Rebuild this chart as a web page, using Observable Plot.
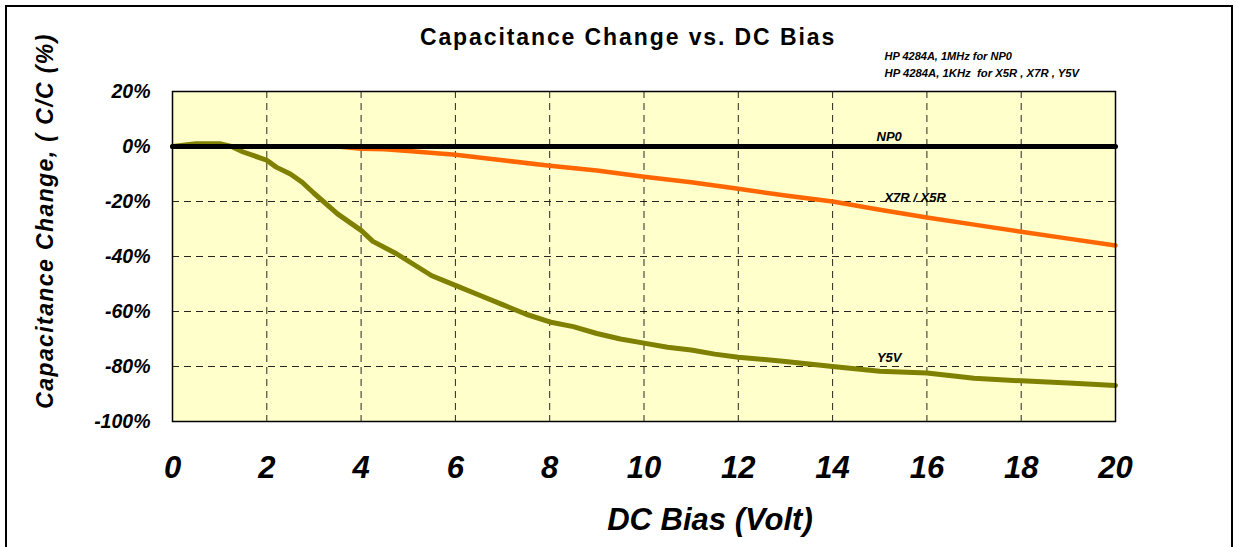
<!DOCTYPE html>
<html>
<head>
<meta charset="utf-8">
<script src="https://cdn.jsdelivr.net/npm/d3@7"></script>
<script src="https://cdn.jsdelivr.net/npm/@observablehq/plot@0.6"></script>
<style>
  html, body { margin: 0; padding: 0; background: #fff; }
  #wrap { position: relative; width: 1239px; height: 547px; overflow: hidden; font-family: 'Liberation Sans', Arial, sans-serif; }
  #border { position: absolute; left: 5px; top: 5px; width: 1224px; height: 600px; border: 2px solid #000; pointer-events: none; z-index: 2; }
  #ylabel { position: absolute; left: 45px; top: 221px; transform: translate(-50%, -50%) rotate(-90deg); white-space: nowrap;
            font-size: 23px; font-weight: bold; font-style: italic; letter-spacing: 1.4px; color: #000; z-index: 3; }
  #title { position: absolute; left: 628px; top: 37px; transform: translate(-50%, -50%); white-space: nowrap;
           font-size: 23px; font-weight: bold; letter-spacing: 1.9px; color: #000; z-index: 3; }
</style>
</head>
<body>
<div id="wrap"><div id="border"></div><div id="title"></div><div id="ylabel"></div></div>
<script>
// ---- data ----
const np0Bias = [0, 20];
const np0Change = [0, 0];

const x7rBias = [0, 1, 2, 3, 3.5, 4, 4.5, 5, 6, 7, 8, 9, 10, 11, 12, 13, 14, 15, 16, 17, 18, 19, 20];
const x7rChange = [0, 0, 0, 0, 0, -0.8, -1, -1.6, -3, -5, -7, -8.7, -11, -13, -15.4, -17.8, -20, -23, -25.8, -28.4, -31, -33.5, -36];

const y5vBias = [0, 0.5, 1, 1.25, 1.5, 2, 2.2, 2.5, 2.75, 3, 3.5, 4, 4.25, 4.75, 5.5, 6, 6.5, 7, 7.5, 8, 8.5, 9, 9.5, 10, 10.5, 11, 11.5, 12, 13, 14, 15, 16, 17, 18, 19, 20];
const y5vChange = [0, 1, 1, 0, -2, -5, -7.5, -10, -13, -17, -24.5, -30.5, -34.5, -39, -47, -50.5, -54, -57.5, -61, -63.8, -65.5, -68, -70, -71.5, -73, -74, -75.5, -76.6, -78.2, -80, -81.7, -82.4, -84.3, -85.2, -86, -86.9];

const seriesNames = ["NP0", "X7R / X5R", "Y5V"];
const seriesColors = ["#000000", "#FF6600", "#808000"];
const labelBias = [15.2, 15.75, 15.2];
const labelChange = [3.6, -18.5, -76.7];

const xTicks = [0, 2, 4, 6, 8, 10, 12, 14, 16, 18, 20];
const yTicks = [20, 0, -20, -40, -60, -80, -100];
const xGrid = [2, 4, 6, 8, 10, 12, 14, 16, 18];
const yGrid = [0, -20, -40, -60, -80];

const titleText = "Capacitance Change vs. DC Bias";
const noteLines = ["HP 4284A, 1MHz for NP0", "HP 4284A, 1KHz  for X5R , X7R , Y5V"];
const xLabel = "DC Bias (Volt)";
const yLabel = "Capacitance Change, ( C/C (%)";

// ---- tables ----
const toRows = (xs, ys) => xs.map((x, i) => ({x, y: ys[i]}));
const np0 = toRows(np0Bias, np0Change);
const x7r = toRows(x7rBias, x7rChange);
const y5v = toRows(y5vBias, y5vChange);
const labels = seriesNames.map((name, i) => ({name, x: labelBias[i], y: labelChange[i]}));

const font = "'Liberation Sans', Arial, sans-serif";

const chart = Plot.plot({
  width: 1239,
  height: 547,
  marginLeft: 172,
  marginRight: 124,
  marginTop: 91,
  marginBottom: 126,
  style: {fontFamily: font, background: "transparent", overflow: "visible"},
  x: {domain: [0, 20], axis: null},
  y: {domain: [-100, 20], axis: null},
  marks: [
    Plot.frame({fill: "#FFFFCC"}),
    Plot.ruleX(xGrid, {stroke: "#000", strokeWidth: 1, strokeDasharray: "7,5", strokeOpacity: 0.85}),
    Plot.ruleY(yGrid, {stroke: "#000", strokeWidth: 1, strokeDasharray: "7,5", strokeOpacity: 0.85}),
    Plot.line(x7r, {x: "x", y: "y", stroke: seriesColors[1], strokeWidth: 4.5}),
    Plot.line(y5v, {x: "x", y: "y", stroke: seriesColors[2], strokeWidth: 5}),
    Plot.line(np0, {x: "x", y: "y", stroke: seriesColors[0], strokeWidth: 5}),
    Plot.frame({stroke: "#000", strokeWidth: 1.5}),
    Plot.text(labels, {x: "x", y: "y", text: "name", fontSize: 13, fontWeight: "bold", fontStyle: "italic", fill: "#000"}),
    // tick labels through scales
    Plot.text(xTicks, {x: d => d, frameAnchor: "bottom", dy: 47, text: d => String(d), fontSize: 31, fontWeight: "bold", fontStyle: "italic", lineAnchor: "middle"}),
    Plot.text(yTicks, {y: d => d, frameAnchor: "left", dx: -22, text: d => d + "%", textAnchor: "end", fontSize: 19.5, fontWeight: "bold", fontStyle: "italic", lineAnchor: "middle"}),
    // axis title, notes
    Plot.text([xLabel], {frameAnchor: "bottom", dx: 66, dy: 99, fontSize: 31, fontWeight: "bold", fontStyle: "italic", lineAnchor: "middle"}),
    Plot.text([noteLines[0]], {frameAnchor: "top-left", dx: 712, dy: -35, textAnchor: "start", fontSize: 11, fontWeight: "bold", fontStyle: "italic", lineAnchor: "middle"}),
    Plot.text([noteLines[1]], {frameAnchor: "top-left", dx: 712, dy: -18, textAnchor: "start", fontSize: 11.3, fontWeight: "bold", fontStyle: "italic", lineAnchor: "middle"})
  ]
});
const wrap = document.getElementById("wrap");
wrap.insertBefore(chart, wrap.firstChild);
chart.style.position = "absolute";
chart.style.left = "0";
chart.style.top = "0";
document.getElementById("ylabel").textContent = yLabel;
document.getElementById("title").textContent = titleText;
</script>
</body>
</html>
